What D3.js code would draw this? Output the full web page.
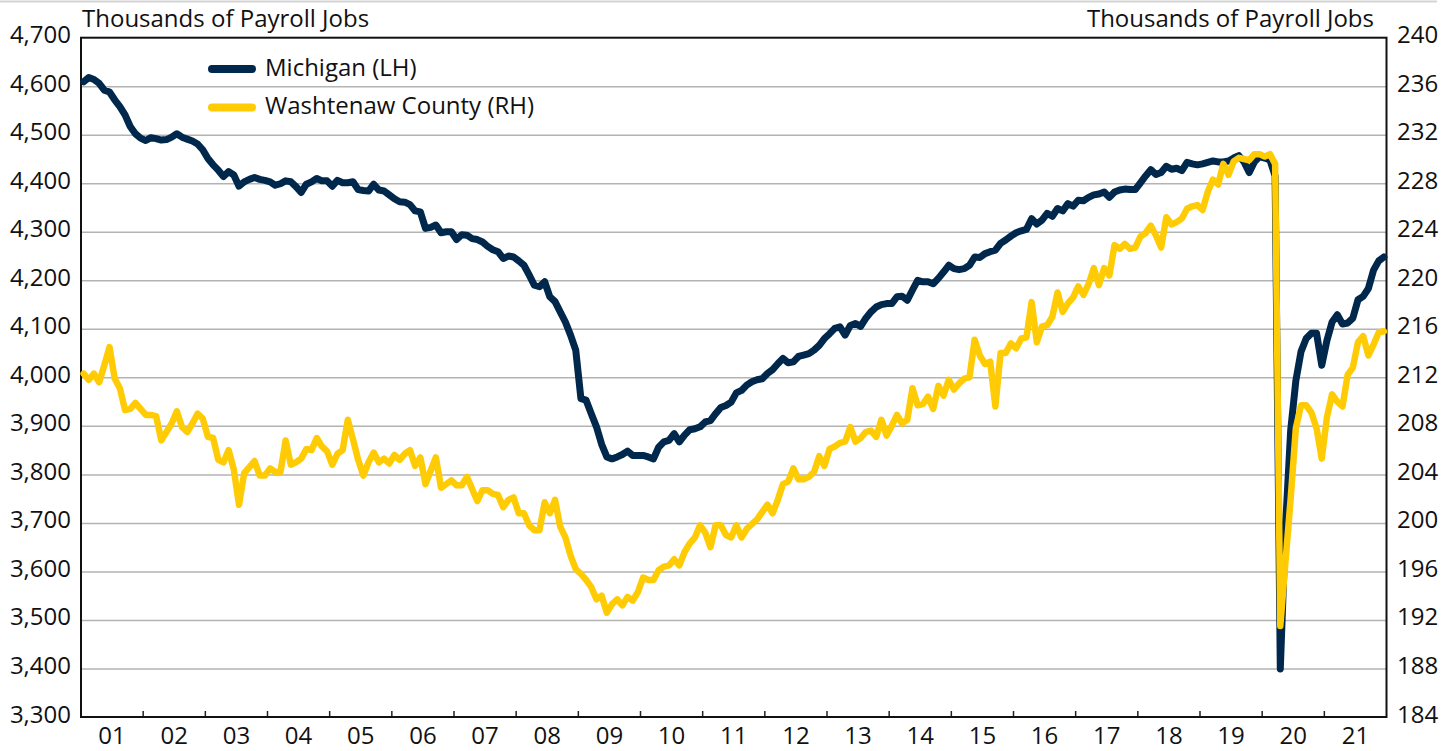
<!DOCTYPE html>
<html>
<head>
<meta charset="utf-8">
<script src="https://cdn.jsdelivr.net/npm/d3@7"></script>
<style>
  body { margin: 0; background: #fff; }
  svg text { font-family: "Open Sans", sans-serif; font-size: 24px; fill: #111; }
</style>
</head>
<body>
<div class="main"></div>
<script>
// Monthly payroll jobs (thousands), Jan 2001 - Dec 2021, one row per year
const yearLabels = ["01","02","03","04","05","06","07","08","09","10","11","12","13","14","15","16","17","18","19","20","21"]

const michigan = [
  4609,4618,4614,4606,4592,4588,4572,4558,4541,4517,4502,4493,
  4488,4494,4492,4489,4490,4495,4502,4495,4491,4487,4481,4469,
  4451,4438,4427,4414,4424,4417,4394,4403,4408,4412,4408,4406,
  4403,4396,4399,4405,4403,4393,4381,4398,4403,4410,4405,4405,
  4394,4406,4401,4401,4403,4387,4385,4384,4398,4386,4384,4376,
  4368,4362,4361,4356,4343,4341,4307,4309,4314,4298,4300,4300,
  4284,4294,4293,4286,4284,4279,4270,4263,4259,4245,4250,4248,
  4240,4231,4211,4190,4187,4197,4166,4156,4135,4114,4087,4056,
  3956,3953,3925,3898,3862,3836,3832,3836,3841,3848,3839,3839,
  3839,3836,3832,3856,3867,3870,3884,3867,3881,3892,3894,3898,
  3908,3911,3925,3938,3942,3949,3968,3973,3984,3991,3995,3997,
  4008,4016,4028,4039,4030,4032,4043,4046,4049,4056,4066,4080,
  4090,4101,4104,4087,4107,4111,4105,4122,4135,4145,4150,4152,
  4152,4166,4167,4159,4180,4200,4197,4197,4193,4204,4217,4231,
  4224,4222,4224,4231,4248,4247,4255,4259,4262,4276,4283,4291,
  4298,4302,4305,4327,4316,4324,4338,4332,4348,4343,4358,4353,
  4365,4364,4371,4376,4378,4382,4371,4382,4386,4388,4387,4387,
  4401,4415,4428,4418,4422,4435,4429,4431,4426,4443,4440,4438,
  4440,4443,4446,4444,4444,4446,4452,4457,4444,4422,4444,4455,
  4452,4448,4415,3399,3690,3890,3993,4053,4080,4091,4091,4025,
  4076,4114,4129,4110,4112,4122,4160,4167,4183,4221,4240,4248
]

const washtenaw = [
  212.3,211.8,212.3,211.6,213.0,214.5,211.9,211.1,209.3,209.4,209.9,209.4,
  208.9,208.9,208.8,206.8,207.5,208.2,209.2,207.9,207.5,208.2,209.0,208.6,
  207.1,207.0,205.2,205.0,206.0,204.4,201.5,204.1,204.6,205.1,203.9,203.9,
  204.5,204.2,204.2,206.8,204.8,205.0,205.3,206.1,206.0,207.0,206.3,205.9,
  204.8,205.7,206.0,208.5,206.9,205.2,203.9,205.0,205.8,205.0,205.3,204.9,
  205.6,205.2,205.7,206.0,204.7,205.4,203.2,204.3,205.4,202.9,203.2,203.5,
  203.1,203.1,203.8,202.8,201.8,202.7,202.7,202.4,202.3,201.3,201.9,202.1,
  200.8,200.8,199.8,199.4,199.4,201.7,200.8,201.9,199.7,198.8,197.3,196.2,
  195.8,195.3,194.7,193.7,194.0,192.6,193.3,193.7,193.2,193.9,193.6,194.3,
  195.5,195.3,195.3,196.1,196.4,196.5,197.0,196.5,197.6,198.3,198.8,199.8,
  199.2,198.0,199.8,199.8,199.0,198.8,199.8,198.8,199.5,199.9,200.3,200.9,
  201.5,200.8,201.9,203.2,203.4,204.5,203.6,203.6,203.8,204.2,205.5,204.7,
  206.1,206.3,206.6,206.7,207.9,206.7,207.0,207.5,207.6,207.1,208.5,207.2,
  208.0,208.9,208.2,208.5,211.1,209.7,209.8,210.4,209.4,211.3,210.5,211.8,
  211.0,211.5,211.9,212.0,215.1,213.8,213.1,213.3,209.6,214.0,214.0,214.8,
  214.4,215.2,215.3,218.2,214.9,216.2,216.3,217.0,219.0,217.4,218.1,218.6,
  219.5,218.8,219.7,221.0,219.6,221.0,220.4,222.9,222.6,223.0,222.6,222.7,
  223.6,223.9,224.5,223.7,222.7,225.2,224.6,224.8,225.1,225.9,226.1,226.2,
  225.8,227.3,228.3,227.9,229.6,228.7,229.8,230.1,230.0,229.9,230.4,230.4,
  230.2,230.4,229.6,191.5,196.8,202.0,207.8,209.7,209.7,209.1,207.8,205.3,
  208.7,210.6,210.0,209.6,212.2,212.8,214.9,215.4,213.8,214.7,215.7,215.8
]

const leftTicks = [3300,3400,3500,3600,3700,3800,3900,4000,4100,4200,4300,4400,4500,4600,4700]
const rightTicks = [184,188,192,196,200,204,208,212,216,220,224,228,232,236,240]

const width = 1454
const height = 751
const margin = ({top: 37.7, right: 67.5, bottom: 34, left: 81})

const navy = "#00274C"
const maize = "#FFCB05"

const x = d3.scaleLinear()
  .domain([0, michigan.length])
  .range([margin.left, width - margin.right])

const yLeft = d3.scaleLinear()
  .domain([3300, 4700])
  .range([height - margin.bottom, margin.top])

const yRight = d3.scaleLinear()
  .domain([184, 240])
  .range([height - margin.bottom, margin.top])

const svg = d3.select(".main")
  .append("svg")
    .attr("width", width)
    .attr("height", height)

// faint frame line at the very top
svg.append("line")
  .attr("x1", 0).attr("x2", 1437)
  .attr("y1", 1.5).attr("y2", 1.5)
  .attr("stroke", "#d4d4d4")
  .attr("stroke-width", 2)

// Gridlines from the left scale
svg.append("g")
  .attr("transform", `translate(${margin.left},0)`)
  .call(d3.axisLeft(yLeft)
    .tickValues(leftTicks.slice(1, -1))
    .tickSize(-(width - margin.left - margin.right))
    .tickFormat(""))
  .call(g => g.select(".domain").remove())
  .call(g => g.selectAll(".tick line").attr("stroke", "#b3b3b3").attr("stroke-width", 1.5))

// Left tick labels
svg.append("g")
  .selectAll("text")
  .data(leftTicks)
  .join("text")
    .attr("x", margin.left - 10)
    .attr("y", d => yLeft(d) + 5.5)
    .attr("text-anchor", "end")
    .text(d3.format(","))

// Right tick labels
svg.append("g")
  .selectAll("text")
  .data(rightTicks)
  .join("text")
    .attr("x", width - margin.right + 10.5)
    .attr("y", d => yRight(d) + 5.5)
    .text(d => d)

// Year ticks and labels on the bottom
const yearG = svg.append("g")
yearG.selectAll("line")
  .data(d3.range(1, yearLabels.length))
  .join("line")
    .attr("x1", i => x(i * 12)).attr("x2", i => x(i * 12))
    .attr("y1", height - margin.bottom - 6)
    .attr("y2", height - margin.bottom)
    .attr("stroke", "#222")
    .attr("stroke-width", 1.5)

yearG.selectAll("text")
  .data(yearLabels)
  .join("text")
    .attr("x", (_, i) => x(i * 12 + 6))
    .attr("y", height - margin.bottom + 26.5)
    .attr("text-anchor", "middle")
    .text(d => d)

// Plot frame
svg.append("rect")
  .attr("x", margin.left)
  .attr("y", margin.top)
  .attr("width", width - margin.left - margin.right)
  .attr("height", height - margin.top - margin.bottom)
  .attr("fill", "none")
  .attr("stroke", "#111")
  .attr("stroke-width", 2)

// Axis titles
svg.append("text")
  .attr("x", margin.left + 1)
  .attr("y", 27)
  .text("Thousands of Payroll Jobs")

svg.append("text")
  .attr("x", 1374)
  .attr("y", 27)
  .attr("text-anchor", "end")
  .text("Thousands of Payroll Jobs")

// Lines: Michigan on left scale, Washtenaw on right scale (drawn on top)
const lineLeft = d3.line()
  .x((_, i) => x(i + 0.5))
  .y(d => yLeft(d))

const lineRight = d3.line()
  .x((_, i) => x(i + 0.5))
  .y(d => yRight(d))

svg.append("path")
  .datum(michigan)
  .attr("d", lineLeft)
  .attr("fill", "none")
  .attr("stroke", navy)
  .attr("stroke-width", 7)
  .attr("stroke-linejoin", "round")
  .attr("stroke-linecap", "round")

svg.append("path")
  .datum(washtenaw)
  .attr("d", lineRight)
  .attr("fill", "none")
  .attr("stroke", maize)
  .attr("stroke-width", 6.5)
  .attr("stroke-linejoin", "round")
  .attr("stroke-linecap", "round")

// Legend
const legend = svg.append("g")
const legendItems = [
  {name: "Michigan (LH)", color: navy, y: 69},
  {name: "Washtenaw County (RH)", color: maize, y: 107.5}
]

legend.selectAll("line")
  .data(legendItems)
  .join("line")
    .attr("x1", 212).attr("x2", 252)
    .attr("y1", d => d.y).attr("y2", d => d.y)
    .attr("stroke", d => d.color)
    .attr("stroke-width", 8)
    .attr("stroke-linecap", "round")

legend.selectAll("text")
  .data(legendItems)
  .join("text")
    .attr("x", 265)
    .attr("y", d => d.y + 6.5)
    .text(d => d.name)
</script>
</body>
</html>
